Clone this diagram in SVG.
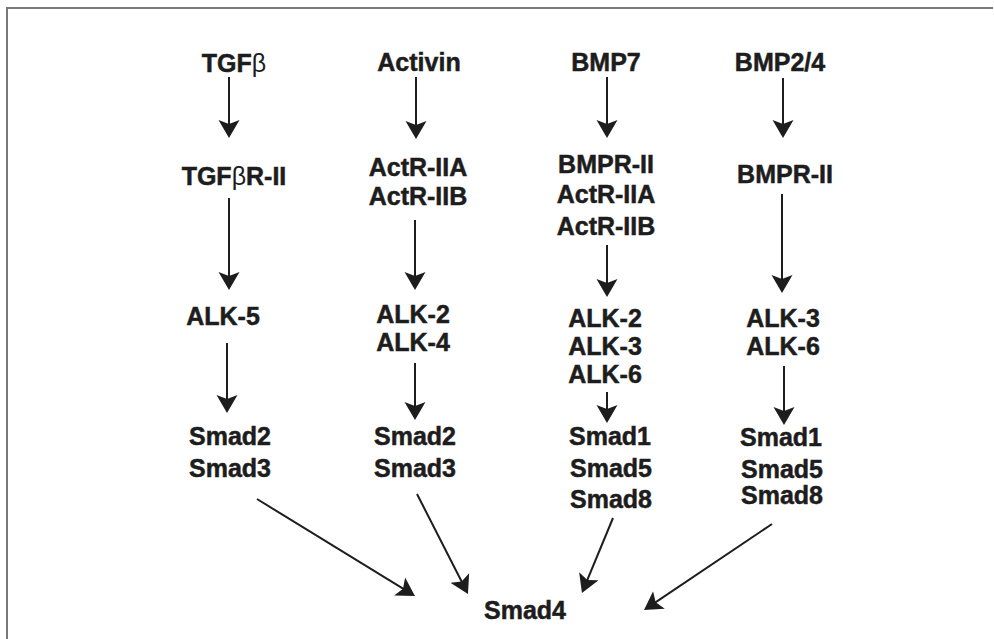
<svg xmlns="http://www.w3.org/2000/svg" width="994" height="639" viewBox="0 0 994 639">
  <style>
    .lbl { font-family: "Liberation Sans", Arial, sans-serif; font-weight: bold; font-size: 25px; fill: #1d1d1d; stroke: #1d1d1d; stroke-width: 0.5; text-anchor: middle; }
    .sym { font-family: "Liberation Sans", Arial, sans-serif; font-weight: normal; stroke-width: 0; }
    .edge { stroke: #1d1d1d; stroke-width: 2; fill: none; marker-end: url(#head); }
    .frame { stroke: #7a7a7a; stroke-width: 2; fill: none; }
  </style>
  <defs>
    <marker id="head" markerUnits="userSpaceOnUse" markerWidth="20" markerHeight="24" viewBox="0 -12 20 24" refX="15" refY="0" orient="auto">
      <path d="M18,0 L0,-10.5 L4,0 L0,10.5 Z" fill="#1d1d1d"/>
    </marker>
  </defs>

  <rect width="994" height="639" fill="#ffffff"/>
  <!-- frame: top and left rules -->
  <path class="frame" d="M7,639 V8 H993"/>

  <!-- TGF-beta branch -->
  <g id="tgfb"><text class="lbl" x="234" y="72">TGF<tspan class="sym">β</tspan></text></g>
  <g id="tgfbr2"><text class="lbl" x="234" y="185">TGF<tspan class="sym">β</tspan>R-II</text></g>
  <g id="alk5"><text class="lbl" x="223" y="325">ALK-5</text></g>
  <g id="smad23a"><text class="lbl" x="230" y="445">Smad2</text><text class="lbl" x="230" y="477">Smad3</text></g>

  <!-- Activin branch -->
  <g id="activin"><text class="lbl" x="419" y="71">Activin</text></g>
  <g id="actr2ab"><text class="lbl" x="418" y="176">ActR-IIA</text><text class="lbl" x="418" y="205">ActR-IIB</text></g>
  <g id="alk24"><text class="lbl" x="413" y="323">ALK-2</text><text class="lbl" x="413" y="351">ALK-4</text></g>
  <g id="smad23b"><text class="lbl" x="415" y="445">Smad2</text><text class="lbl" x="415" y="477">Smad3</text></g>

  <!-- BMP7 branch -->
  <g id="bmp7"><text class="lbl" x="606" y="71">BMP7</text></g>
  <g id="bmpr2a"><text class="lbl" x="606" y="173">BMPR-II</text><text class="lbl" x="606" y="203">ActR-IIA</text><text class="lbl" x="606" y="235">ActR-IIB</text></g>
  <g id="alk236"><text class="lbl" x="605" y="327">ALK-2</text><text class="lbl" x="605" y="355">ALK-3</text><text class="lbl" x="605" y="383">ALK-6</text></g>
  <g id="smad158a"><text class="lbl" x="610" y="445">Smad1</text><text class="lbl" x="611" y="477">Smad5</text><text class="lbl" x="611" y="508">Smad8</text></g>

  <!-- BMP2/4 branch -->
  <g id="bmp24"><text class="lbl" x="780" y="71">BMP2/4</text></g>
  <g id="bmpr2b"><text class="lbl" x="785" y="183">BMPR-II</text></g>
  <g id="alk36"><text class="lbl" x="783" y="327">ALK-3</text><text class="lbl" x="783" y="355">ALK-6</text></g>
  <g id="smad158b"><text class="lbl" x="781" y="446">Smad1</text><text class="lbl" x="782" y="478">Smad5</text><text class="lbl" x="782" y="504">Smad8</text></g>

  <!-- common partner -->
  <g id="smad4"><text class="lbl" x="525" y="619">Smad4</text></g>

  <g id="connectors">
    <line class="edge" x1="229" y1="77" x2="229" y2="135"/>
    <line class="edge" x1="229" y1="198" x2="229" y2="287"/>
    <line class="edge" x1="227" y1="343" x2="227" y2="410"/>

    <line class="edge" x1="416" y1="77" x2="416" y2="136"/>
    <line class="edge" x1="415" y1="220" x2="415" y2="287"/>
    <line class="edge" x1="415" y1="363" x2="415" y2="417"/>

    <line class="edge" x1="607" y1="77" x2="607" y2="135"/>
    <line class="edge" x1="607" y1="245" x2="607" y2="294"/>
    <line class="edge" x1="607" y1="392" x2="607" y2="420"/>

    <line class="edge" x1="783" y1="78" x2="783" y2="135"/>
    <line class="edge" x1="782" y1="194" x2="782" y2="290"/>
    <line class="edge" x1="784" y1="366" x2="784" y2="422"/>

    <line class="edge" x1="257" y1="499" x2="412.4" y2="594.4"/>
    <line class="edge" x1="417" y1="494" x2="466.6" y2="591.3"/>
    <line class="edge" x1="613" y1="518" x2="583.1" y2="590.2"/>
    <line class="edge" x1="772" y1="524" x2="646.5" y2="608.3"/>
  </g>
</svg>
